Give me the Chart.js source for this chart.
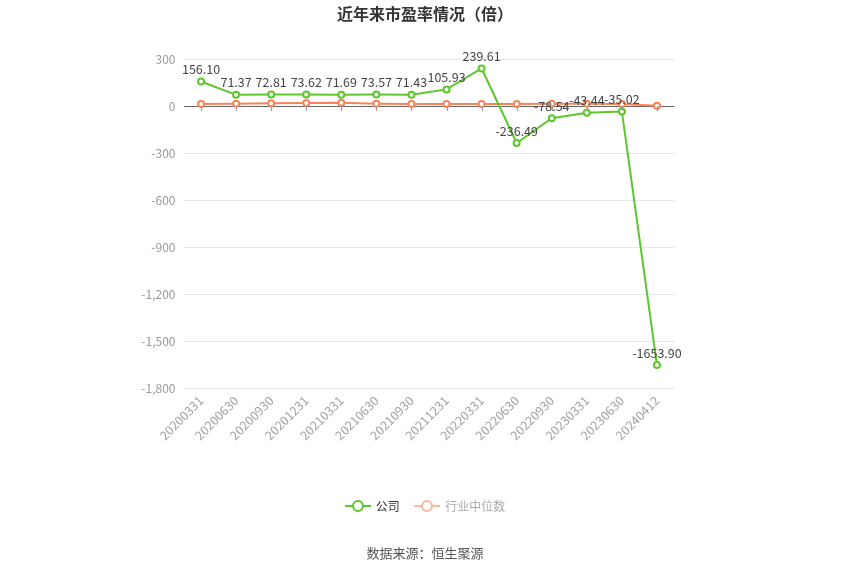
<!DOCTYPE html>
<html>
<head>
<meta charset="utf-8">
<script src="https://cdn.jsdelivr.net/npm/chart.js@4.4.1/dist/chart.umd.min.js"></script>
<style>
    body { margin: 0; background: #fff; font-family: "Noto Sans CJK SC", sans-serif; }
    .wrap { position: relative; width: 850px; height: 575px; }
    canvas { position: absolute; left: 0; top: 0; }
    .title { position: absolute; top: 1px; width: 850px; text-align: center; font-size: 16px; font-weight: bold; color: #333; }
    .legend { position: absolute; top: 497px; width: 850px; text-align: center; font-size: 12px; }
    .legend span.item { display: inline-flex; align-items: center; margin: 0 6px; }
    .legend svg { margin-right: 5px; }
    .source { position: absolute; top: 543px; width: 850px; text-align: center; font-size: 13px; color: #555; }
</style>
</head>
<body>
<div class="wrap">
    <canvas id="peChart" width="850" height="575"></canvas>
    <div class="title">近年来市盈率情况（倍）</div>
    <div class="legend">
        <span class="item" style="color:#333">
            <svg width="26" height="14"><line x1="0" y1="7" x2="26" y2="7" stroke="#5cc62c" stroke-width="2"/><circle cx="13" cy="7" r="5" fill="#fff" stroke="#5cc62c" stroke-width="2"/></svg>公司
        </span>
        <span class="item" style="color:#aaa">
            <svg width="26" height="14"><line x1="0" y1="7" x2="26" y2="7" stroke="#f9b8a0" stroke-width="2"/><circle cx="13" cy="7" r="5" fill="#fff" stroke="#f9b8a0" stroke-width="2"/></svg>行业中位数
        </span>
    </div>
    <div class="source">数据来源：恒生聚源</div>
</div>
<script>
const categories = ['20200331', '20200630', '20200930', '20201231', '20210331', '20210630', '20210930',
    '20211231', '20220331', '20220630', '20220930', '20230331', '20230630', '20240412'];
const companyPE = [156.10, 71.37, 72.81, 73.62, 71.69, 73.57, 71.43, 105.93, 239.61, -236.49, -78.54, -43.44, -35.02, -1653.90];
const industryPE = [13, 15, 17, 19, 21, 15, 13, 13, 13, 13, 14, 15, 13, 1];
const yTicks = [300, 0, -300, -600, -900, -1200, -1500, -1800];

// value labels above the company points + small ticks on the zero line
const extrasPlugin = {
    id: 'extras',
    afterDatasetsDraw(chart) {
        const ctx = chart.ctx;
        const xs = chart.scales.x;
        const y0 = chart.scales.y.getPixelForValue(0);
        ctx.save();
        ctx.strokeStyle = '#999';
        ctx.lineWidth = 1;
        categories.forEach((c, i) => {
            const x = Math.round(xs.getPixelForValue(i)) + 0.5;
            ctx.beginPath();
            ctx.moveTo(x, y0);
            ctx.lineTo(x, y0 + 5);
            ctx.stroke();
        });
        ctx.fillStyle = '#444';
        ctx.font = '12.5px "Noto Sans CJK SC", sans-serif';
        ctx.textAlign = 'center';
        ctx.textBaseline = 'bottom';
        chart.getDatasetMeta(0).data.forEach((pt, i) => {
            ctx.fillText(companyPE[i].toFixed(2), pt.x, pt.y - 6);
        });
        ctx.restore();
    }
};

new Chart(document.getElementById('peChart'), {
    type: 'line',
    data: {
        labels: categories,
        datasets: [{
            label: '公司',
            data: companyPE,
            borderColor: '#5cc62c',
            backgroundColor: '#fff',
            borderWidth: 2,
            pointRadius: 3,
            pointBorderWidth: 2,
            pointBackgroundColor: '#fff',
            pointBorderColor: '#5cc62c',
            tension: 0
        }, {
            label: '行业中位数',
            data: industryPE,
            borderColor: '#f5845a',
            backgroundColor: '#fff',
            borderWidth: 2,
            pointRadius: 3,
            pointBorderWidth: 2,
            pointBackgroundColor: '#fff',
            pointBorderColor: '#f5845a',
            tension: 0
        }]
    },
    options: {
        responsive: false,
        animation: false,
        layout: { padding: { top: 59, left: 133.5, right: 175.5, bottom: 127 } },
        plugins: {
            legend: { display: false },
            tooltip: { enabled: false }
        },
        scales: {
            x: {
                offset: true,
                grid: { display: false },
                border: { display: false },
                ticks: {
                    color: '#a3a3a3',
                    font: { size: 12.5, family: '"Noto Sans CJK SC", sans-serif' },
                    minRotation: 45,
                    maxRotation: 45,
                    autoSkip: false,
                    padding: -3
                },
                afterFit: s => { s.height = 60; }
            },
            y: {
                min: -1800,
                max: 300,
                afterBuildTicks: s => { s.ticks = yTicks.map(v => ({ value: v })); },
                grid: {
                    color: c => c.tick && c.tick.value === 0 ? '#666' : '#e3e7f0',
                    drawTicks: false
                },
                border: { display: false },
                ticks: {
                    color: '#999',
                    font: { size: 12, family: '"Noto Sans CJK SC", sans-serif' },
                    padding: 8,
                    callback: v => v.toLocaleString('en-US')
                },
                afterFit: s => { s.width = 50; }
            }
        }
    },
    plugins: [extrasPlugin]
});
</script>
</body>
</html>
